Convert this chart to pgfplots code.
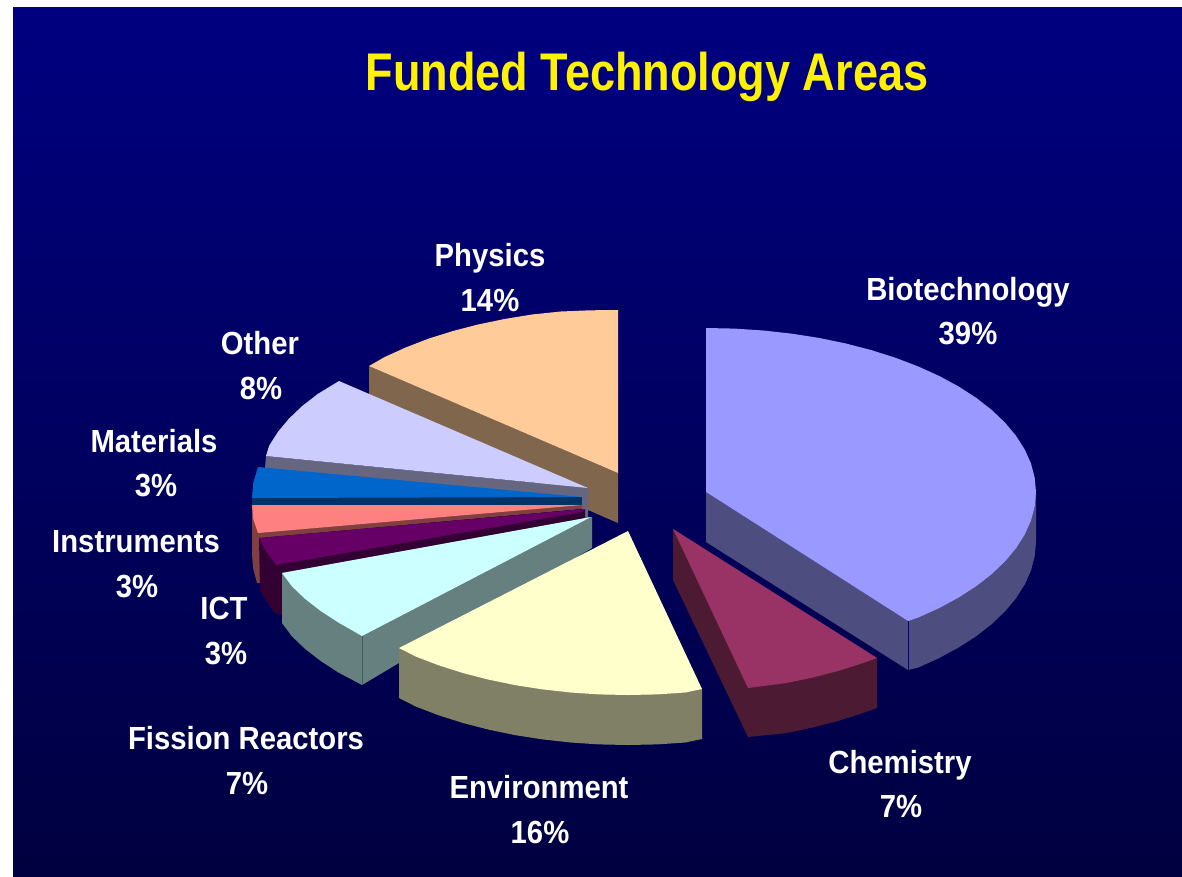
\documentclass[border=0pt]{standalone}
\usepackage{pgfplots}
\pgfplotsset{compat=1.18}
\usepackage{fontspec}
\setmainfont{Liberation Sans}
\definecolor{bioT}{HTML}{9999FF}\definecolor{bioS}{HTML}{4D4D80}
\definecolor{cheT}{HTML}{993366}\definecolor{cheS}{HTML}{4D1A33}
\definecolor{envT}{HTML}{FFFFCC}\definecolor{envS}{HTML}{808066}
\definecolor{fisT}{HTML}{CCFFFF}\definecolor{fisS}{HTML}{668080}
\definecolor{ictT}{HTML}{660066}\definecolor{ictS}{HTML}{330033}
\definecolor{insT}{HTML}{FF8080}\definecolor{insS}{HTML}{804040}
\definecolor{matT}{HTML}{0066CC}\definecolor{matS}{HTML}{003366}
\definecolor{othT}{HTML}{CCCCFF}\definecolor{othS}{HTML}{666680}
\definecolor{phyT}{HTML}{FFCC99}\definecolor{phyS}{HTML}{80664D}
\definecolor{bgT}{HTML}{000080}\definecolor{bgB}{HTML}{000040}
\newcommand{\lab}[3]{\node[anchor=base,text=white,inner sep=0pt,align=center] at (axis cs:#1,#2) {\fontsize{32}{32}\bfseries\scalebox{0.915}[1]{#3}};}
\begin{document}
\begin{tikzpicture}
\begin{axis}[width=1182pt,height=876pt,scale only axis,xmin=0,xmax=1182,ymin=0,ymax=876,y dir=reverse,hide axis,clip=false,no markers,
  every axis plot/.append style={draw=none,line width=0pt}]
\path[fill=white] (axis cs:0,0) rectangle (axis cs:1182,876);
\path[top color=bgT,bottom color=bgB] (axis cs:13,7) rectangle (axis cs:1182,876);
% Physics
\addplot[fill=phyS] coordinates {(369,366)(618,473)(618,523)(588,510)(369,394)} --cycle;
\addplot[fill=phyT] coordinates {(369,366)(384.7,357)(405.9,347.4)(429,338.5)(453,331)(478,324.5)(505.1,318.9)(532,314.5)(560.7,311.5)(590,310.3)(618,310)(618,473)} --cycle;
% Other
\addplot[fill=othS] coordinates {(266,456)(588,488)(588,520)(582,520)(582,500)(265,468)} --cycle;
\addplot[fill=othT] coordinates {(339,381)(317.7,394)(302.2,406)(288.9,418.7)(277.9,431.9)(269.2,445.6)(266,456)(588,488)} --cycle;
% Instruments side
\addplot[fill=insS] coordinates {(252,505)(582,505)(582,509)(262,538)(262,583)(257,583)(253.3,569)(252,555)} --cycle;
% Materials
\addplot[fill=matS] coordinates {(252,497)(582,497)(582,505)(252,505)} --cycle;
\addplot[fill=matT] coordinates {(258,467)(582,497)(252,498)(253.3,482.7)} --cycle;
% Instruments top
\addplot[fill=insT] coordinates {(252,505)(582,505)(258,533)(253.3,519.3)} --cycle;
% ICT
\addplot[fill=ictS] coordinates {(259,538)(585,509)(585,518)(282,575)(282,615)(275,613)(266,601)(260,590)} --cycle;
\addplot[fill=ictT] coordinates {(259,538)(585,509)(582,512)(276,565)(266.2,551.4)} --cycle;
% Fission
\addplot[fill=fisS] coordinates {(282,573)(282,623)(291.9,636.3)(305.2,649)(320.7,661)(338.2,672.4)(362,685)(592,548)(592,517)} --cycle;
\addplot[fill=fisT] coordinates {(591,517)(282,573)(291.9,586.3)(305.2,599)(320.7,611)(338.2,622.4)(362,636)} --cycle;
% Environment
\addplot[fill=envS] coordinates {(399,648)(702,689)(702,739)(685.3,742.5)(656.8,744.4)(628,745)(599.2,744.4)(570.7,742.5)(542.6,739.4)(515.1,735.1)(488.5,729.6)(463,723)(438.7,715.3)(415.9,706.6)(399,698)} --cycle;
\addplot[fill=envT] coordinates {(628,531)(702,689)(685.3,692.5)(656.8,694.4)(628,695)(599.2,694.4)(570.7,692.5)(542.6,689.4)(515.1,685.1)(488.5,679.6)(463,673)(438.7,665.3)(415.9,656.6)(399,648)} --cycle;
% Chemistry
\addplot[fill=cheS] coordinates {(673,529)(673,580)(748,737)(785.9,733.1)(812.5,727.6)(838,721)(862.3,713.3)(877,708)(877,658)} --cycle;
\addplot[fill=cheT] coordinates {(673,529)(877,658)(862.3,663.3)(838,671)(812.5,677.6)(785.9,683.1)(748,688)} --cycle;
% Biotechnology
\addplot[fill=bioS] coordinates {(706,492)(706,542)(908,670)(918.1,667.6)(939.3,658)(958.8,647.4)(976.3,636.1)(991.8,624)(1005.1,611.3)(1016.1,598.1)(1024.8,584.4)(1031,570.5)(1034.7,556.3)(1036,542)(1036,490)(908,621)} --cycle;
\addplot[fill=bioT] coordinates {(706,328)(734.8,328.6)(763.3,330.5)(791.4,333.6)(818.9,337.9)(845.5,343.4)(871,350)(895.3,357.7)(918.1,366.4)(939.3,376)(958.8,386.6)(976.3,397.9)(991.8,410)(1005.1,422.7)(1016.1,435.9)(1024.8,449.6)(1031,463.5)(1034.7,477.7)(1036,492)(1034.7,506.3)(1031,520.5)(1024.8,534.4)(1016.1,548.1)(1005.1,561.3)(991.8,574)(976.3,586.1)(958.8,597.4)(939.3,608)(918.1,617.6)(908,621)(706,492)} --cycle;
\addplot[draw=bgT,line width=0.6pt] coordinates {(908,621)(908,670)};
\addplot[draw=fisS!70!black,line width=0.6pt] coordinates {(362,636)(362,685)};
% Text
\node[anchor=base,text=yellow,inner sep=0pt] at (axis cs:647,90) {\fontsize{53}{53}\bfseries\scalebox{0.85}[1]{Funded Technology Areas}};
\lab{968}{300}{Biotechnology}\lab{968}{344}{39\%}
\lab{490}{266}{Physics}\lab{490}{311}{14\%}
\lab{260}{354}{Other}\lab{261}{399}{8\%}
\lab{154}{452}{Materials}\lab{156}{496}{3\%}
\lab{136}{552}{Instruments}\lab{137}{597}{3\%}
\lab{224}{619}{ICT}\lab{226}{664}{3\%}
\lab{246}{749}{Fission Reactors}\lab{247}{794}{7\%}
\lab{539}{798}{Environment}\lab{540}{843}{16\%}
\lab{900}{773}{Chemistry}\lab{901}{817}{7\%}
\end{axis}
\end{tikzpicture}
\end{document}
